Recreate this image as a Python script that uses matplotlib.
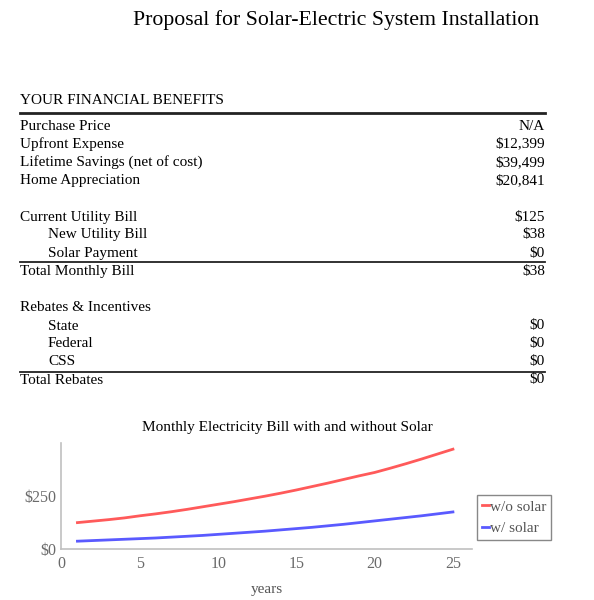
import matplotlib
matplotlib.use('Agg')
import matplotlib.pyplot as plt
from matplotlib.lines import Line2D

# table content
benefit_labels = ['Purchase Price', 'Upfront Expense', 'Lifetime Savings (net of cost)', 'Home Appreciation']
benefit_values = ['N/A', '$12,399', '$39,499', '$20,841']
bill_labels = ['Current Utility Bill', 'New Utility Bill', 'Solar Payment']
bill_values = ['$125', '$38', '$0']
bill_total = ('Total Monthly Bill', '$38')
rebate_labels = ['State', 'Federal', 'CSS']
rebate_values = ['$0', '$0', '$0']
rebate_total = ('Total Rebates', '$0')

# chart data (monthly bill, $)
years = list(range(1, 26))
without_solar = [125, 132, 139, 147, 157, 166, 176, 187, 199, 211, 223, 236, 249,
                 263, 278, 294, 310, 327, 344, 360, 380, 401, 423, 446, 469]
with_solar = [38, 41, 44, 47, 50, 53, 57, 61, 65, 70, 75, 80, 85,
              91, 97, 103, 110, 117, 125, 133, 141, 149, 157, 166, 175]

W, H = 594, 600
plt.rcParams['font.family'] = ['Liberation Serif', 'DejaVu Serif']
fig = plt.figure(figsize=(W / 100, H / 100), dpi=100)


def fx(px):
    return px / W


def fy(py):
    return 1 - py / H


def hline(py, lw):
    fig.add_artist(Line2D([fx(20), fx(545)], [fy(py), fy(py)], color='#222222', lw=lw,
                          transform=fig.transFigure))


def row(py, label, value, indent=False):
    fig.text(fx(48 if indent else 20), fy(py), label, fontsize=11, va='center', ha='left')
    if value:
        fig.text(fx(545), fy(py), value, fontsize=11, va='center', ha='right')


fig.text(fx(336), fy(20), 'Proposal for Solar-Electric System Installation', fontsize=15.7,
         ha='center', va='center')

row(100, 'YOUR FINANCIAL BENEFITS', '')
hline(113, 2)
for i, (lab, val) in enumerate(zip(benefit_labels, benefit_values)):
    row(126 + i * 18.1, lab, val)

row(217, bill_labels[0], bill_values[0])
for i, (lab, val) in enumerate(zip(bill_labels[1:], bill_values[1:])):
    row(235 + i * 18.1, lab, val, indent=True)
hline(261.5, 1.3)
row(271, bill_total[0], bill_total[1])

row(307.5, 'Rebates & Incentives', '')
for i, (lab, val) in enumerate(zip(rebate_labels, rebate_values)):
    row(326 + i * 17.9, lab, val, indent=True)
hline(371.5, 1.3)
row(380, rebate_total[0], rebate_total[1])

# chart
ax = fig.add_axes([fx(61), fy(549.3), fx(471.7) - fx(61), (549.3 - 443) / H])
ax.plot(years, without_solar, color='#ff5a5a', lw=2, label='w/o solar')
ax.plot(years, with_solar, color='#5a5aff', lw=2, label='w/ solar')
ax.set_xlim(-0.05, 26.2)
ax.set_ylim(0, 498)
ax.set_xticks([0, 5, 10, 15, 20, 25])
ax.set_yticks([0, 250])
ax.set_yticklabels(['$0', '$250'])
ax.tick_params(length=0, labelsize=11.5, colors='#6a6a6a')
ax.tick_params(axis='y', pad=3)
ax.tick_params(axis='x', pad=5)
for s in ['top', 'right']:
    ax.spines[s].set_visible(False)
for s in ['left', 'bottom']:
    ax.spines[s].set_color('#c0c0c0')
    ax.spines[s].set_linewidth(1.2)
ax.set_title('Monthly Electricity Bill with and without Solar', fontsize=11, pad=9,
             x=(287 - 61) / (471.7 - 61))
ax.set_xlabel('years', fontsize=11, color='#555555', labelpad=8)
leg = ax.legend(loc='center left', bbox_to_anchor=(1.0, 0.3), handlelength=0.5,
                handletextpad=0.05, borderpad=0.3, labelspacing=0.5, fontsize=11,
                fancybox=False, framealpha=1, borderaxespad=0.35)
leg.get_frame().set_edgecolor('#888888')
for t in leg.get_texts():
    t.set_color('#555555')

fig.savefig('out.png', dpi=100)
